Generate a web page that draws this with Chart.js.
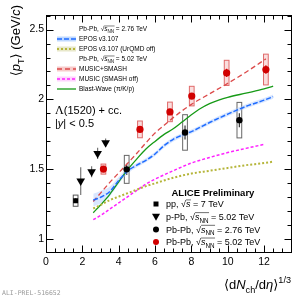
<!DOCTYPE html>
<html lang="en">
<head>
<meta charset="UTF-8" />
<title>Lambda(1520) mean pT</title>
<script src="https://cdn.jsdelivr.net/npm/chart.js"></script>
<style>
  html, body { margin: 0; padding: 0; background: #fff; }
  #wrap { width: 307px; height: 298px; position: relative; }
</style>
</head>
<body>
<div id="wrap"><canvas id="meanPtChart"></canvas></div>
<script>
  // tick labels
  const xTicks = [0, 2, 4, 6, 8, 10, 12];
  const yTicks = [1, 1.5, 2, 2.5];

  // measured points: x = <dNch/deta>^1/3, y = <pT>
  const ppX = [1.63];
  const ppY = [1.276];
  const ppStat = [0.015];
  const ppSys = [0.04];

  const pPbX = [1.91, 2.51, 2.84, 3.28];
  const pPbY = [1.416, 1.483, 1.614, 1.69];
  const pPbStat = [0.1, 0.04, 0.04, 0.03];

  const pb276X = [4.44, 7.65, 10.64];
  const pb276Y = [1.50, 1.764, 1.852];
  const pb276Stat = [0.04, 0.05, 0.05];
  const pb276Sys = [0.10, 0.127, 0.127];

  const pb502X = [3.16, 5.17, 6.82, 8.02, 9.94, 12.1];
  const pb502Y = [1.502, 1.786, 1.911, 2.024, 2.19, 2.214];
  const pb502Stat = [0.015, 0.02, 0.02, 0.02, 0.03, 0.03];
  const pb502Sys = [0.036, 0.06, 0.07, 0.07, 0.09, 0.11];

  // models
  const eposX = [2.6, 3.0, 3.5, 4.0, 4.5, 5.0, 5.5, 6.0, 6.5, 7.0, 7.5, 8.0, 9.0, 10.0, 11.0, 12.0, 12.5];
  const eposY = [1.28, 1.30, 1.34, 1.42, 1.49, 1.53, 1.565, 1.61, 1.67, 1.715, 1.745, 1.77, 1.835, 1.895, 1.95, 1.995, 2.02];
  const eposErr = [0.045, 0.045, 0.035, 0.025, 0.02, 0.015, 0.015, 0.015, 0.015, 0.015, 0.015, 0.015, 0.015, 0.015, 0.015, 0.015, 0.015];

  const eposOffX = [2.6, 3.0, 3.5, 4.0, 4.5, 5.0, 5.5, 6.0, 7.0, 8.0, 9.0, 10.0, 11.0, 12.0, 12.5];
  const eposOffY = [1.22, 1.245, 1.28, 1.305, 1.33, 1.355, 1.38, 1.40, 1.44, 1.47, 1.49, 1.51, 1.53, 1.545, 1.555];

  const musicX = [2.6, 3.0, 3.5, 4.0, 4.5, 5.0, 5.5, 6.0, 6.5, 7.0, 7.5, 8.0, 9.0, 10.0, 11.0, 12.1];
  const musicY = [1.27, 1.33, 1.405, 1.475, 1.545, 1.615, 1.69, 1.76, 1.815, 1.87, 1.92, 1.965, 2.04, 2.115, 2.195, 2.29];

  const musicOffX = [2.6, 3.0, 3.5, 4.0, 4.5, 5.0, 5.5, 6.0, 7.0, 8.0, 9.0, 10.0, 11.0, 12.05];
  const musicOffY = [1.14, 1.17, 1.215, 1.26, 1.305, 1.35, 1.395, 1.43, 1.49, 1.545, 1.585, 1.62, 1.65, 1.68];

  const bwX = [2.6, 3.0, 3.5, 4.0, 4.5, 5.0, 5.5, 6.0, 6.5, 7.0, 7.5, 8.0, 8.5, 9.0, 9.5, 10.0, 11.0, 12.0, 12.5];
  const bwY = [1.19, 1.245, 1.32, 1.41, 1.50, 1.575, 1.645, 1.70, 1.75, 1.79, 1.84, 1.89, 1.935, 1.97, 1.995, 2.015, 2.045, 2.075, 2.095];

  const SANS = '"Liberation Sans", Arial, Helvetica, "DejaVu Sans", sans-serif';
  const SERIF = '"Liberation Serif", "Times New Roman", serif';
  const RED = '#d10000';

  const pts = (xs, ys) => xs.map((x, i) => ({ x: x, y: ys[i] }));

  // text with italic / sub / sup / sqrt bar pieces
  function rich(ctx, x, y, parts, size, bold, draw) {
    let cx = x, barStart = x;
    for (const [t, m] of parts) {
      if (m === 'bar') { barStart = cx; continue; }
      if (m === 'endbar') {
        if (draw) {
          ctx.beginPath();
          ctx.lineWidth = Math.max(0.5, size / 16);
          ctx.moveTo(barStart, y - size * 0.82);
          ctx.lineTo(cx + 0.5, y - size * 0.82);
          ctx.stroke();
        }
        continue;
      }
      let fs = size, dy = 0, st = '', fam = SANS;
      if (m === 'i' || m === 'isub') st = 'italic ';
      if (m === 'sub' || m === 'isub') { fs = size * 0.7; dy = size * 0.3; }
      if (m === 'sup') { fs = size * 0.7; dy = -size * 0.45; }
      if (m === 'serif') { fam = SERIF; fs = size * 1.1; }
      ctx.font = st + (bold ? 'bold ' : '') + fs + 'px ' + fam;
      if (draw) ctx.fillText(t, cx, y + dy);
      cx += ctx.measureText(t).width;
    }
    return cx - x;
  }

  const sqrtNN = (rest) => [['\u221A', 'n'], ['', 'bar'], ['s', 'i'], ['NN', 'sub'], ['', 'endbar'], [rest, 'n']];

  // error bars and systematic boxes under the markers
  const errorBoxes = {
    id: 'errorBoxes',
    beforeDatasetsDraw(chart) {
      const { ctx, scales: { x, y } } = chart;
      const hw = 0.13;
      ctx.save();
      function boxes(xs, ys, sys, stroke, fill) {
        xs.forEach((v, i) => {
          const l = x.getPixelForValue(v - hw), r = x.getPixelForValue(v + hw);
          const t = y.getPixelForValue(ys[i] + sys[i]), b = y.getPixelForValue(ys[i] - sys[i]);
          if (fill) { ctx.fillStyle = fill; ctx.fillRect(l, t, r - l, b - t); }
          ctx.strokeStyle = stroke; ctx.lineWidth = 1;
          ctx.strokeRect(l, t, r - l, b - t);
        });
      }
      function bars(xs, ys, st, color) {
        ctx.strokeStyle = color; ctx.lineWidth = 1.2;
        ctx.beginPath();
        xs.forEach((v, i) => {
          const px = x.getPixelForValue(v);
          ctx.moveTo(px, y.getPixelForValue(ys[i] + st[i]));
          ctx.lineTo(px, y.getPixelForValue(ys[i] - st[i]));
        });
        ctx.stroke();
      }
      boxes(pb502X, pb502Y, pb502Sys, '#e06a6a', 'rgba(240,160,160,0.35)');
      boxes(pb276X, pb276Y, pb276Sys, '#666', null);
      boxes(ppX, ppY, ppSys, '#555', null);
      bars(pPbX, pPbY, pPbStat, '#777');
      bars(pb276X, pb276Y, pb276Stat, '#333');
      bars(pb502X, pb502Y, pb502Stat, RED);
      bars(ppX, ppY, ppStat, '#000');
      ctx.restore();
    }
  };

  // ROOT style frame, inward ticks, titles and legends
  const frame = {
    id: 'frame',
    afterDraw(chart) {
      const { ctx, chartArea: a, scales: { x, y } } = chart;
      const L = Math.round(a.left) + 0.5, R = Math.round(a.right) - 0.5;
      const T = Math.round(a.top) + 0.5, B = Math.round(a.bottom) - 0.5;
      ctx.save();
      ctx.strokeStyle = '#000';
      ctx.lineWidth = 1;
      ctx.strokeRect(L, T, R - L, B - T);
      ctx.beginPath();
      for (let i = 1; i * 0.5 < x.max; i++) {
        const px = Math.round(x.getPixelForValue(i * 0.5)) + 0.5;
        const len = i % 4 === 0 ? 7 : 4;
        ctx.moveTo(px, B); ctx.lineTo(px, B - len);
        ctx.moveTo(px, T); ctx.lineTo(px, T + len);
      }
      for (let i = 10; i / 10 < y.max; i++) {
        const py = Math.round(y.getPixelForValue(i / 10)) + 0.5;
        const len = i % 5 === 0 ? 7 : 4;
        ctx.moveTo(L, py); ctx.lineTo(L + len, py);
        ctx.moveTo(R, py); ctx.lineTo(R - len, py);
      }
      ctx.stroke();

      ctx.fillStyle = '#000';
      ctx.strokeStyle = '#000';
      ctx.textAlign = 'left';
      ctx.textBaseline = 'alphabetic';

      // y title, rotated
      const yt = [['\u27E8', 'n'], ['p', 'i'], ['T', 'sub'], ['\u27E9', 'n'], [' (GeV/', 'n'], ['c', 'i'], [')', 'n']];
      ctx.save();
      ctx.translate(20, 5);
      ctx.rotate(-Math.PI / 2);
      const yw = rich(ctx, 0, 0, yt, 13, false, false);
      rich(ctx, -yw, 0, yt, 13, false, true);
      ctx.restore();

      // x title
      const xt = [['\u27E8', 'n'], ['d', 'n'], ['N', 'i'], ['ch', 'sub'], ['/d', 'n'], ['\u03B7', 'i'], ['\u27E9', 'n'], ['1/3', 'sup']];
      const xw = rich(ctx, 0, 0, xt, 13, false, false);
      rich(ctx, 291 - xw, 289, xt, 13, false, true);

      // particle label
      rich(ctx, 55, 114, [['\u039B', 'serif'], ['(1520) + cc.', 'n']], 11, false, true);
      rich(ctx, 55, 127, [['|', 'n'], ['y', 'i'], ['| < 0.5', 'n']], 11, false, true);

      // model legend
      const modelRows = [
        { parts: [['Pb-Pb, ', 'n']].concat(sqrtNN(' = 2.76 TeV')) },
        { parts: [['EPOS v3.107', 'n']], color: '#1f6cff', dash: [5, 2], w: 1.5, band: 'rgba(140,185,255,0.55)' },
        { parts: [['EPOS v3.107 (UrQMD off)', 'n']], color: '#b5b53a', dash: [2, 2], w: 2, band: 'rgba(210,210,150,0.5)' },
        { parts: [['Pb-Pb, ', 'n']].concat(sqrtNN(' = 5.02 TeV')) },
        { parts: [['MUSIC+SMASH', 'n']], color: '#dc4a4a', dash: [5, 3], w: 1.3, band: 'rgba(240,160,160,0.55)' },
        { parts: [['MUSIC (SMASH off)', 'n']], color: '#ff22ff', dash: [3, 2], w: 1.5, band: 'rgba(255,170,255,0.5)' },
        { parts: [['Blast-Wave (\u03C0/K/p)', 'n']], color: '#169a16', dash: [], w: 1.3 }
      ];
      modelRows.forEach((row, i) => {
        const cy = 29 + i * 10;
        if (row.color) {
          if (row.band) { ctx.fillStyle = row.band; ctx.fillRect(57, cy - 2.5, 19, 5); }
          ctx.save();
          ctx.strokeStyle = row.color; ctx.lineWidth = row.w; ctx.setLineDash(row.dash);
          ctx.beginPath(); ctx.moveTo(57, cy); ctx.lineTo(76, cy); ctx.stroke();
          ctx.restore();
        }
        ctx.fillStyle = '#000'; ctx.strokeStyle = '#000';
        rich(ctx, 79, cy + 2.3, row.parts, 6.5, false, true);
      });

      // data legend
      rich(ctx, 171.5, 195.5, [['ALICE Preliminary', 'n']], 9.5, true, true);
      const dataRows = [
        { parts: [['pp, ', 'n'], ['\u221A', 'n'], ['', 'bar'], ['s', 'i'], ['', 'endbar'], [' = 7 TeV', 'n']], m: 'sq', c: '#000' },
        { parts: [['p-Pb, ', 'n']].concat(sqrtNN(' = 5.02 TeV')), m: 'tri', c: '#000' },
        { parts: [['Pb-Pb, ', 'n']].concat(sqrtNN(' = 2.76 TeV')), m: 'dot', c: '#000' },
        { parts: [['Pb-Pb, ', 'n']].concat(sqrtNN(' = 5.02 TeV')), m: 'dot', c: RED }
      ];
      dataRows.forEach((row, i) => {
        const cy = 204 + i * 12.7, mx = 156;
        ctx.fillStyle = row.c;
        ctx.beginPath();
        if (row.m === 'sq') ctx.rect(mx - 2.5, cy - 2.5, 5, 5);
        else if (row.m === 'tri') { ctx.moveTo(mx - 4, cy - 3); ctx.lineTo(mx + 4, cy - 3); ctx.lineTo(mx, cy + 4); ctx.closePath(); }
        else ctx.arc(mx, cy, 3, 0, Math.PI * 2);
        ctx.fill();
        ctx.fillStyle = '#000'; ctx.strokeStyle = '#000';
        rich(ctx, 166, cy + 3.3, row.parts, 9, false, true);
      });

      // figure id
      ctx.fillStyle = '#9a9a9a';
      ctx.font = '6.5px "DejaVu Sans Mono", "Liberation Mono", monospace';
      ctx.fillText('ALI-PREL-516652', 2, 295);
      ctx.restore();
    }
  };

  const lineDs = (label, xs, ys, color, dash, width) => ({
    label: label, data: pts(xs, ys), borderColor: color, borderDash: dash, borderWidth: width,
    pointRadius: 0, fill: false, tension: 0.3, cubicInterpolationMode: 'monotone', order: 1
  });

  const datasets = [
    { label: 'pp 7 TeV', data: pts(ppX, ppY), showLine: false, pointStyle: 'rect', pointRadius: 3.5,
      backgroundColor: '#000', borderColor: '#000', borderWidth: 0, order: 0 },
    { label: 'p-Pb 5.02 TeV', data: pts(pPbX, pPbY), showLine: false, pointStyle: 'triangle', pointRotation: 180,
      pointRadius: 5, backgroundColor: '#000', borderColor: '#000', borderWidth: 0, order: 0 },
    { label: 'Pb-Pb 2.76 TeV', data: pts(pb276X, pb276Y), showLine: false, pointStyle: 'circle', pointRadius: 3.2,
      backgroundColor: '#000', borderColor: '#000', borderWidth: 0, order: 0 },
    { label: 'Pb-Pb 5.02 TeV', data: pts(pb502X, pb502Y), showLine: false, pointStyle: 'circle', pointRadius: 3.6,
      backgroundColor: RED, borderColor: RED, borderWidth: 0, order: 0 },
    lineDs('EPOS v3.107', eposX, eposY, '#1f6cff', [5, 2], 1.5),
    lineDs('EPOS v3.107 (UrQMD off)', eposOffX, eposOffY, '#b5b53a', [2, 2], 2),
    lineDs('MUSIC+SMASH', musicX, musicY, '#dc4a4a', [5, 3], 1.3),
    lineDs('MUSIC (SMASH off)', musicOffX, musicOffY, '#ff22ff', [3, 2], 1.5),
    lineDs('Blast-Wave', bwX, bwY, '#169a16', [], 1.3),
    { label: 'EPOS band hi', data: pts(eposX, eposY.map((v, i) => v + eposErr[i])), borderWidth: 0, pointRadius: 0,
      tension: 0.3, cubicInterpolationMode: 'monotone', fill: '+1', backgroundColor: 'rgba(160,195,255,0.4)', order: 2 },
    { label: 'EPOS band lo', data: pts(eposX, eposY.map((v, i) => v - eposErr[i])), borderWidth: 0, pointRadius: 0,
      tension: 0.3, cubicInterpolationMode: 'monotone', fill: false, order: 2 }
  ];

  const tickFont = { family: SANS, size: 10.5 };

  new Chart(document.getElementById('meanPtChart'), {
    type: 'line',
    data: { datasets: datasets },
    options: {
      responsive: true,
      maintainAspectRatio: false,
      animation: false,
      layout: { padding: { left: 0, right: 15.3, top: 15, bottom: 0 } },
      plugins: { legend: { display: false }, tooltip: { enabled: false } },
      scales: {
        x: {
          type: 'linear', min: 0, max: 13.52,
          grid: { display: false, drawTicks: false }, border: { display: false },
          afterBuildTicks: s => { s.ticks = xTicks.map(v => ({ value: v })); },
          afterFit: s => { s.height = 45.3; },
          ticks: { padding: 3, maxRotation: 0, autoSkip: false, color: '#000', font: tickFont, callback: v => String(v) }
        },
        y: {
          type: 'linear', min: 0.904, max: 2.604,
          grid: { display: false, drawTicks: false }, border: { display: false },
          afterBuildTicks: s => { s.ticks = yTicks.map(v => ({ value: v })); },
          afterFit: s => { s.width = 46; },
          ticks: { padding: 2, autoSkip: false, color: '#000', font: tickFont, callback: v => String(v) }
        }
      }
    },
    plugins: [errorBoxes, frame]
  });
</script>
</body>
</html>
